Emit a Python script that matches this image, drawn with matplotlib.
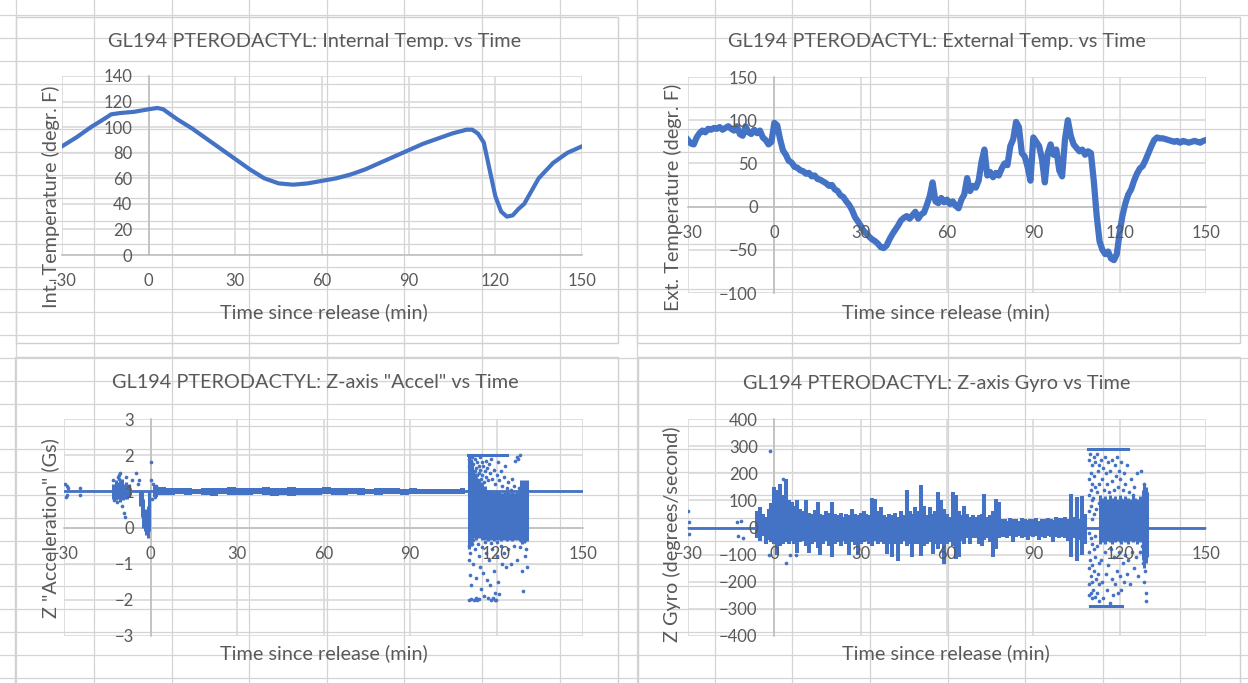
import numpy as np
import matplotlib.pyplot as plt
from matplotlib.patches import Rectangle

plt.rcParams['font.family'] = ['Lato', 'DejaVu Sans']

W, H = 1248, 683
BLUE = '#4472C4'
TXT = '#595959'

# ---------------- internal temperature (smooth)
int_t = [-30, -25, -20, -15, -13, -10, -5, 0, 3, 5,
         10, 15, 20, 25, 30, 35, 40, 45, 50, 55,
         60, 65, 70, 75, 80, 85, 90, 95, 100, 105,
         110, 112, 114, 116, 118, 120, 122, 124, 126, 128,
         130, 135, 140, 145, 150]
int_f = [85, 92, 100, 107, 110, 111, 112, 114, 115, 114,
         106, 99, 91, 83, 75, 67, 60, 56, 55, 56,
         58, 60, 63, 67, 72, 77, 82, 87, 91, 95,
         98, 98, 95, 88, 67, 46, 34, 30, 31, 36,
         40, 60, 72, 80, 85]

# ---------------- external temperature, one reading per minute from -30 to 150
ext_t = list(range(-30, 151))
ext_f = [77, 73, 72, 80, 85, 88, 86, 90, 89, 91,
         90, 92, 89, 91, 93, 90, 88, 93, 84, 82,
         93, 86, 84, 89, 85, 88, 80, 77, 72, 75,
         97, 94, 78, 65, 60, 53, 51, 46, 45, 42,
         41, 38, 39, 35, 36, 32, 31, 29, 27, 24,
         25, 20, 18, 13, 11, 6, 2, -4, -12, -17,
         -22, -28, -31, -35, -38, -40, -43, -47, -48, -45,
         -38, -32, -27, -22, -16, -13, -11, -14, -10, -6,
         -14, -9, -7, 2, 12, 28, 6, 4, 10, 5,
         8, 3, 6, 1, -2, 8, 14, 33, 18, 24,
         22, 30, 52, 66, 36, 40, 34, 39, 36, 44,
         50, 48, 70, 78, 98, 92, 62, 58, 46, 30,
         80, 75, 70, 55, 28, 62, 72, 60, 66, 42,
         35, 78, 100, 82, 72, 68, 64, 66, 60, 64,
         62, 30, -10, -40, -50, -55, -52, -60, -62, -55,
         -30, -10, 4, 14, 20, 30, 38, 44, 47, 54,
         62, 70, 77, 80, 79, 79, 78, 77, 76, 75,
         76, 74, 76, 75, 74, 75, 76, 75, 74, 76,
         77]

# ---------------- Z accel
acc_base_t = [-30, 150]
acc_base_g = [1.0, 1.0]
acc_band_t = list(range(1, 111, 3))
acc_band_hi = [1.18, 1.12, 1.10, 1.08, 1.09, 1.07, 1.10, 1.08, 1.09, 1.12,
               1.08, 1.10, 1.09, 1.11, 1.08, 1.10, 1.12, 1.09, 1.10, 1.08,
               1.11, 1.09, 1.10, 1.08, 1.09, 1.07, 1.08, 1.10, 1.08, 1.07,
               1.08, 1.06, 1.07, 1.06, 1.07, 1.06, 1.08]
acc_band_lo = [0.85, 0.90, 0.91, 0.92, 0.90, 0.92, 0.91, 0.88, 0.92, 0.90,
               0.91, 0.89, 0.92, 0.90, 0.88, 0.91, 0.87, 0.90, 0.91, 0.89,
               0.92, 0.90, 0.91, 0.93, 0.91, 0.92, 0.90, 0.93, 0.92, 0.91,
               0.93, 0.92, 0.94, 0.93, 0.94, 0.93, 0.92]
# dense columns (pre-release wobble, release dip, descent chaos)
acc_col_t = [-13, -12.5, -12, -11.5, -11, -10.5, -10, -9.5, -9, -8.5, -8, -7.5, -7,
             -3.5, -3, -2.5, -2, -1.5, -1, -0.5,
             110.5, 111.0, 111.5, 112.0, 112.5, 113.0, 113.5, 114.0, 114.5, 115.0,
             115.5, 116.0, 116.5, 117.0, 117.5, 118.0, 118.5, 119.0, 119.5, 120.0,
             120.5, 121.0, 121.5, 122.0, 122.5, 123.0, 123.5, 124.0, 124.5, 125.0,
             125.5, 126.0, 126.5, 127.0, 127.5, 128.0, 128.5, 129.0, 129.5, 130.0,
             130.5]
acc_col_hi = [1.2, 1.1, 1.3, 1.15, 1.25, 1.3, 1.35, 1.2, 1.1, 1.25, 1.15, 1.2, 1.1,
              1.05, 1.0, 0.8, 0.5, 0.4, 0.6, 1.0,
              2.0, 1.9, 1.8, 1.6, 1.5, 1.4, 1.3, 1.35, 1.2, 1.25,
              1.1, 1.15, 1.0, 1.05, 0.95, 1.0, 0.95, 0.98, 0.95, 1.0,
              0.95, 0.97, 0.95, 0.96, 0.95, 0.98, 0.95, 0.97, 0.96, 0.95,
              0.98, 0.96, 0.95, 0.97, 0.95, 0.98, 1.3, 1.25, 1.3, 1.2,
              1.3]
acc_col_lo = [0.8, 0.85, 0.75, 0.9, 0.8, 0.7, 0.85, 0.75, 0.8, 0.9, 0.8, 0.85, 0.9,
              0.6, 0.3, 0.0, -0.1, -0.2, -0.3, -0.1,
              -0.6, -0.5, -0.4, -0.3, -0.2, -0.35, -0.3, -0.25, -0.3, -0.35,
              -0.3, -0.35, -0.3, -0.38, -0.32, -0.35, -0.3, -0.36, -0.33, -0.35,
              -0.3, -0.34, -0.36, -0.3, -0.35, -0.33, -0.36, -0.3, -0.35, -0.32,
              -0.36, -0.34, -0.3, -0.35, -0.33, -0.36, -0.4, -0.45, -0.42, -0.4,
              -0.38]
acc_cap_t = [110, 123.5]
acc_cap_g = [2.0, 2.0]
acc_pts_t = [-29.5, -29.3, -29.0, -28.8, -28.5, -24.5, -24.3, -13, -12.5, -11.5,
             -11, -10.5, -9.8, -9.3, -9, -8.5, -6.5, -5, -4.5, -4,
             -11.2, -10.8, 0.0, 0.3, 0.5, 1, 1.5, 2,
             110.4, 110.6, 110.8, 111.0, 111.2, 111.4, 111.6, 111.8, 112.0, 112.2,
             112.4, 112.6, 112.8, 113.0, 113.2, 113.4, 113.6, 113.8, 114.0, 114.2,
             114.4, 114.6, 114.8, 115.0, 115.3, 115.6, 115.9, 116.2, 116.5, 116.8,
             117.1, 117.4, 117.8, 118.2, 118.6, 119.0, 119.5, 120.0, 120.5, 121.0,
             121.5, 122.0, 122.5, 123.0, 124.0, 125.5, 126.5, 127.0, 127.5, 128.0,
             123.5, 125.0, 126.0, 127.8,
             110.3, 110.5, 110.7, 110.9, 111.2, 111.5, 111.8, 112.2, 112.6, 113.0,
             113.4, 113.8, 114.2, 114.6, 115.0, 115.4, 115.8, 116.2, 116.6, 117.0,
             117.4, 117.8, 118.2, 118.6, 119.0, 119.4, 119.8, 120.2, 120.6, 121.0,
             121.4, 121.8, 122.5, 123.2, 124.0, 125.0, 126.0, 127.0, 128.0, 129.0,
             129.3, 129.8, 130.3, 130.6, 112.0, 113.5, 116.0, 118.0, 120.0, 119.5,
             118.8, 113.9, 112.9, 110.6, 111.0]
acc_pts_g = [1.2, 0.85, 1.15, 0.9, 1.1, 0.9, 1.08, 1.3, 0.75, 0.7,
             1.35, 1.5, 0.6, 0.4, 0.3, 1.4, 1.3, 1.5, 1.2, 1.3,
             1.4, 1.45, 1.8, 1.3, 0.8, 1.2, 0.85, 1.15,
             1.9, 1.7, 1.5, 1.85, 1.3, 1.6, 1.95, 1.4, 1.75, 1.25,
             1.55, 1.9, 1.35, 1.65, 1.8, 1.45, 1.3, 1.7, 1.5, 1.95,
             1.6, 1.35, 1.8, 1.45, 1.7, 1.25, 1.55, 1.85, 1.4, 1.65,
             1.3, 1.75, 1.5, 1.9, 1.35, 1.6, 1.2, 1.45, 1.8, 1.3,
             1.55, 1.15, 1.4, 1.7, 1.25, 1.35, 1.85, 1.95, 1.9, 2.0,
             1.1, 1.05, 1.15, 1.1,
             -0.5, -0.9, -1.3, -0.7, -1.6, -0.45, -1.0, -2.0, -0.6, -1.4,
             -2.0, -0.8, -1.1, -1.7, -0.55, -1.25, -1.9, -0.7, -1.45, -1.95,
             -0.9, -1.6, -2.0, -0.6, -1.2, -1.8, -2.0, -0.8, -1.5, -1.85,
             -0.5, -1.0, -0.7, -1.1, -0.6, -1.0, -0.5, -0.9, -0.55, -1.2,
             -1.75, -0.8, -0.6, -1.1, -0.35, -0.45, -0.4, -0.42, -0.4, -2.0,
             -1.95, -1.98, -1.95, -2.0, -1.98]

# ---------------- Z gyro
gyro_base_t = [-30, 150]
gyro_base_v = [0, 0]
gyro_env_t = list(range(-6, 109))
gyro_env_hi = [60, 75, 50, 40, 70, 90,
               150, 140, 160, 120, 180, 100, 95, 80, 100, 70,
               60, 100, 55, 50, 65, 95, 50, 45, 60, 55,
               95, 50, 45, 55, 40, 50, 45, 70, 50, 45,
               55, 60, 50, 45, 110, 106, 60, 75, 45, 40,
               50, 45, 55, 40, 60, 45, 137, 60, 50, 75,
               60, 155, 80, 45, 75, 50, 60, 131, 100, 70,
               50, 40, 131, 120, 60, 45, 81, 50, 40, 45,
               40, 45, 50, 125, 40, 45, 60, 106, 95, 30,
               30, 25, 35, 30, 30, 25, 35, 30, 28, 30,
               30, 35, 25, 32, 30, 35, 30, 28, 40, 35,
               35, 40, 30, 125, 40, 112, 30, 115, 50]
gyro_env_lo = [-40, -50, -30, -60, -45, -55,
               -60, -100, -70, -60, -55, -60, -50, -60, -95, -55,
               -50, -70, -95, -60, -55, -75, -100, -60, -50, -70,
               -110, -60, -55, -70, -50, -60, -100, -55, -65, -100,
               -60, -55, -50, -60, -70, -48, -60, -55, -60, -97,
               -60, -110, -60, -122, -60, -50, -70, -60, -110, -60,
               -60, -104, -70, -60, -55, -97, -60, -80, -60, -135,
               -60, -55, -70, -116, -110, -50, -60, -40, -60, -40,
               -40, -60, -67, -45, -40, -55, -110, -80, -40, -35,
               -35, -40, -30, -54, -35, -30, -40, -35, -45, -30,
               -35, -30, -45, -35, -40, -30, -35, -54, -35, -40,
               -35, -40, -50, -110, -40, -122, -45, -100, -60]
gyro_core_t = [113.0, 113.5, 114.0, 114.5, 115.0, 115.5, 116.0, 116.5, 117.0, 117.5,
               118.0, 118.5, 119.0, 119.5, 120.0, 120.5, 121.0, 121.5, 122.0, 122.5,
               123.0, 123.5, 124.0, 124.5, 125.0, 125.5, 126.0, 126.5, 127.0, 127.5,
               128.0, 128.5, 129.0, 129.5]
gyro_core_hi = [120, 100, 110, 90, 115, 105, 95, 120, 100, 110,
                95, 115, 105, 100, 120, 110, 95, 105, 115, 100,
                110, 95, 105, 120, 100, 110, 95, 105, 115, 100,
                140, 160, 150, 130]
gyro_core_lo = [-60, -45, -55, -40, -60, -50, -45, -55, -50, -60,
                -45, -55, -50, -40, -55, -60, -45, -50, -55, -45,
                -60, -50, -40, -55, -50, -45, -60, -50, -55, -45,
                -120, -150, -130, -110]
gyro_cap_hi_t = [109, 122.9]
gyro_cap_lo_t = [109.7, 120.8]
gyro_cap = [290, -290]
gyro_pts_t = [109.2, 109.3, 109.4, 109.5, 109.3, 109.4, 109.2, 109.5, 109.3,
              109.8, 109.9, 110.0, 109.9, 110.0, 109.8, 110.0, 109.9,
              110.4, 110.5, 110.3, 110.5, 110.4, 110.3, 110.5, 110.4,
              111.0, 111.1, 110.9, 111.0, 111.1, 111.0, 110.9,
              111.6, 111.5, 111.7, 111.6, 111.5, 111.7, 111.6,
              112.2, 112.3, 112.1, 112.2, 112.3, 112.1,
              112.8, 112.9, 112.7, 112.8, 112.9, 112.8,
              113.5, 113.8, 114.2, 114.6, 115.0, 115.3, 115.7, 116.0, 116.4, 116.8,
              117.2, 117.5, 117.9, 118.3, 118.7, 119.0, 119.4, 119.8, 120.2, 120.6,
              121.0, 121.5, 122.0, 122.6, 123.2, 124.0, 125.0, 126.0, 127.5, 128.5,
              129.0, 124.5,
              113.4, 113.9, 114.3, 114.8, 115.2, 115.6, 116.1, 116.5, 116.9, 117.3,
              117.7, 118.1, 118.5, 118.9, 119.3, 119.7, 120.1, 120.5, 121.0, 121.5,
              122.0, 122.5, 123.0, 123.6, 124.2, 125.0, 125.8, 126.5, 127.2, 128.0,
              128.6, 129.0, 129.2, 128.8, 127.8,
              -30, -29.8, -29.6, -13, -12.5, -11.5, -10.8, -1.5, -2.0, 4.0,
              3.0, 5.5, 7.5]
gyro_pts_v = [250, 180, 120, 60, -20, -90, -150, -210, -250,
              270, 200, 140, 80, -40, -120, -180, -240,
              230, 160, 100, 30, -60, -140, -200, -260,
              260, 190, 110, 50, -80, -160, -230,
              240, 150, 70, -30, -110, -190, -255,
              270, 210, 130, -70, -170, -240,
              230, 160, 90, -130, -210, -270,
              250, 180, 220, 140, 260, 200, 160, 240, 130, 210,
              170, 250, 140, 230, 190, 260, 150, 210, 180, 240,
              140, 200, 160, 230, 130, 180, 150, 200, 210, 160,
              130, 120,
              -120, -200, -260, -90, -170, -230, -140, -280, -80, -190,
              -250, -110, -210, -160, -240, -90, -180, -230, -130, -200,
              -100, -170, -120, -210, -90, -150, -110, -180, -90, -130,
              -200, -240, -270, -160, -70,
              60, -25, 20, 20, -30, 25, -40, 283, -100, -130,
              180, -100, -100]

xticks = list(range(-30, 151, 30))

fig = plt.figure(figsize=(W / 100, H / 100), dpi=100)

# spreadsheet background
bg = fig.add_axes([0, 0, 1, 1])
bg.set_xlim(0, W)
bg.set_ylim(H, 0)
bg.axis('off')
for x in np.arange(16.4, W, 77.6):
    bg.axvline(x, color='#D4D4D4', lw=0.9)
for y in np.arange(15.2, H, 22.85):
    bg.axhline(y, color='#D4D4D4', lw=0.9)
for x0, y0, x1, y1 in [(16, 17, 618, 343), (637, 17, 1240, 343),
                       (15, 357, 618, 700), (638, 357, 1240, 700)]:
    bg.add_patch(Rectangle((x0, y0), x1 - x0, y1 - y0, fc='white', ec='#D0D0D0', lw=1))


def make_ax(x0, y0, x1, y1, ylim, yticks):
    ax = fig.add_axes([x0 / W, 1 - y1 / H, (x1 - x0) / W, (y1 - y0) / H])
    ax.patch.set_alpha(0)
    ax.set_xlim(-30, 150)
    ax.set_ylim(*ylim)
    for s in ['top', 'right']:
        ax.spines[s].set_visible(False)
    for s in ['left', 'bottom']:
        ax.spines[s].set_position(('data', 0))
        ax.spines[s].set_color('#BFBFBF')
        ax.spines[s].set_linewidth(1.2)
        ax.spines[s].set_zorder(1)
    for v in yticks:
        ax.axhline(v, color='#D9D9D9', lw=1.2, zorder=0)
    for v in xticks:
        ax.axvline(v, color='#D9D9D9', lw=1.2, zorder=0)
    ax.set_xticks(xticks)
    ax.set_yticks(yticks)
    ax.tick_params(length=0, labelsize=12, labelcolor=TXT)
    ax.tick_params(axis='x', pad=13)
    ax.tick_params(axis='y', pad=12)
    ax.xaxis.set_zorder(5)
    ax.yaxis.set_zorder(5)
    return ax


ax1 = make_ax(62, 76, 582, 255, (0, 140), range(0, 141, 20))
ax1.plot(int_t, int_f, color=BLUE, lw=3, zorder=3)

ax2 = make_ax(688, 77, 1206, 293, (-100, 150), range(-100, 151, 50))
ax2.plot(ext_t, ext_f, color=BLUE, lw=4.5, zorder=3, solid_joinstyle='round')

ax3 = make_ax(64, 419, 583, 636, (-3, 3), range(-3, 4))
ax3.plot(acc_base_t, acc_base_g, color=BLUE, lw=2, zorder=3)
ax3.fill_between(acc_band_t, acc_band_lo, acc_band_hi, color=BLUE, lw=0, step='mid', zorder=3)
ax3.vlines(acc_col_t, acc_col_lo, acc_col_hi, color=BLUE, lw=2.2, zorder=3)
ax3.plot(acc_cap_t, acc_cap_g, color=BLUE, lw=2.2, zorder=3)
ax3.scatter(acc_pts_t, acc_pts_g, s=7, color=BLUE, lw=0, zorder=3)

ax4 = make_ax(688, 419, 1206, 636, (-400, 400), range(-400, 401, 100))
ax4.plot(gyro_base_t, gyro_base_v, color=BLUE, lw=2, zorder=3)
ax4.vlines(gyro_env_t, gyro_env_lo, gyro_env_hi, color=BLUE, lw=2.9, zorder=3)
ax4.vlines(gyro_core_t, gyro_core_lo, gyro_core_hi, color=BLUE, lw=2.2, zorder=3)
ax4.plot(gyro_cap_hi_t, [gyro_cap[0]] * 2, color=BLUE, lw=2.2, zorder=3)
ax4.plot(gyro_cap_lo_t, [gyro_cap[1]] * 2, color=BLUE, lw=2.2, zorder=3)
ax4.scatter(gyro_pts_t, gyro_pts_v, s=7, color=BLUE, lw=0, zorder=3)

# titles and axis titles
titles = [(315, 42, 'GL194 PTERODACTYL: Internal Temp. vs Time'),
          (937, 42, 'GL194 PTERODACTYL: External Temp. vs Time'),
          (315, 383, 'GL194 PTERODACTYL: Z-axis "Accel" vs Time'),
          (937, 383, 'GL194 PTERODACTYL: Z-axis Gyro vs Time')]
for x, y, s in titles:
    bg.text(x, y, s, fontsize=14.3, color=TXT, ha='center', va='center')
for x, y in [(324, 312), (946, 312), (324, 653), (946, 653)]:
    bg.text(x, y, 'Time since release (min)', fontsize=14.3, color=TXT, ha='center', va='center')
ylabels = [(51, 197, 'Int. Temperature (degr. F)'),
           (673, 197, 'Ext. Temperature (degr. F)'),
           (50, 528, 'Z "Acceleration" (Gs)'),
           (672, 534, 'Z Gyro (degrees/second)')]
for x, y, s in ylabels:
    fig.text(x / W, 1 - y / H, s, fontsize=14.3, color=TXT, ha='center', va='center',
             rotation=90, zorder=10)

plt.savefig('out.png', dpi=100)
